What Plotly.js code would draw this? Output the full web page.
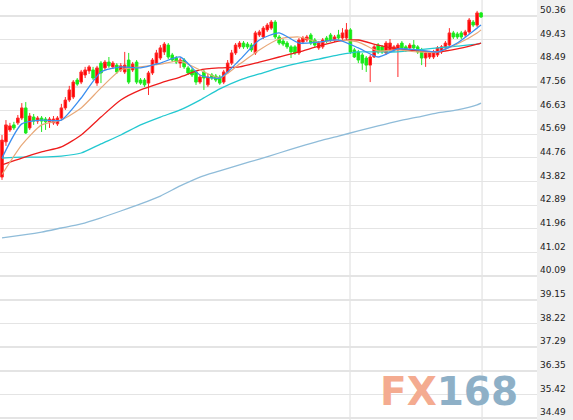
<!DOCTYPE html>
<html><head><meta charset="utf-8">
<script src="https://cdn.plot.ly/plotly-3.0.1.min.js"></script>
<style>html,body{margin:0;padding:0;background:#fff}#chart{width:573px;height:420px}</style>
</head><body><div id="chart"></div>
<script>
const open=[44.00,45.39,45.86,46.06,46.14,46.33,46.73,45.94,46.37,46.21,
46.33,46.29,46.18,46.14,46.10,46.33,46.73,47.04,47.16,47.83,
47.75,48.03,48.19,48.23,47.71,48.50,48.31,48.54,48.35,48.42,
48.23,48.15,48.62,48.23,48.54,47.83,47.83,47.71,48.11,48.50,
48.70,48.94,49.21,48.82,48.70,48.50,48.62,48.31,48.23,48.15,
47.75,48.15,47.64,48.03,47.99,47.95,47.75,48.15,48.50,48.90,
49.14,49.29,49.25,49.21,48.90,49.61,49.53,49.81,49.88,50.12,
49.53,49.37,49.29,49.14,49.14,48.90,49.33,49.41,49.61,49.41,
49.10,49.14,49.49,49.61,49.41,49.61,49.49,49.49,49.81,49.02,
48.94,48.82,48.70,48.42,48.74,49.21,49.14,48.90,49.02,49.02,
49.02,49.29,49.14,49.10,49.21,49.14,49.02,48.70,48.74,48.74,
48.82,48.94,49.10,49.21,49.69,49.65,49.69,49.61,49.73,50.12,
50.00,50.48];
const high=[45.66,46.25,46.14,46.18,46.45,46.92,46.96,46.53,46.49,46.41,
46.41,46.37,46.37,46.41,46.41,46.89,47.16,47.60,47.83,47.91,
48.23,48.35,48.42,48.35,48.39,48.58,48.62,48.74,48.58,48.50,
48.50,48.94,48.90,48.54,48.62,47.91,47.91,48.19,48.70,49.02,
49.21,49.33,49.29,48.90,48.78,48.70,48.70,48.39,48.31,48.23,
48.03,48.23,48.07,48.11,48.07,48.03,48.23,48.62,49.02,49.29,
49.37,49.37,49.33,49.29,49.77,49.81,49.96,50.08,50.20,50.20,
49.61,49.45,49.37,49.21,49.21,49.49,49.57,49.61,49.69,49.49,
49.37,49.49,49.57,49.69,49.61,49.81,49.88,50.08,49.88,49.10,
49.02,48.90,48.78,48.82,49.21,49.29,49.21,49.37,49.45,49.21,
49.29,49.37,49.21,49.29,49.41,49.21,49.10,48.98,48.98,49.02,
49.17,49.21,49.37,49.88,49.77,49.73,49.77,49.81,50.28,50.20,
50.56,50.52];
const low=[43.89,45.23,45.78,45.86,46.06,46.25,45.70,45.86,46.06,46.10,
45.78,45.86,45.94,46.06,46.02,46.25,46.65,46.96,47.08,47.60,
47.67,47.91,48.07,47.83,47.60,47.71,48.23,48.31,48.27,48.07,
48.15,48.07,47.67,48.15,47.67,47.64,47.56,47.24,48.03,48.42,
48.62,48.82,48.66,48.54,48.46,48.31,48.27,48.03,47.95,47.64,
47.67,47.44,47.56,47.83,47.75,47.64,47.67,48.07,48.42,48.82,
49.06,49.06,49.06,48.94,48.82,49.53,49.45,49.73,49.81,49.45,
49.21,49.17,49.06,48.70,48.82,48.82,49.25,49.33,49.21,49.14,
49.02,49.06,49.29,49.33,49.33,49.41,49.41,49.41,48.86,48.70,
48.50,48.23,48.15,47.75,48.70,48.86,48.86,48.82,48.94,48.94,
47.95,49.02,48.94,49.02,49.02,48.86,48.42,48.35,48.66,48.66,
48.74,48.86,49.02,49.14,49.45,49.45,49.45,49.53,49.65,49.92,
49.92,50.28];
const close=[45.46,46.06,46.02,45.94,46.33,46.73,45.74,46.41,46.21,46.33,
46.21,46.18,46.29,46.29,46.33,46.73,47.04,47.44,47.75,47.67,
48.15,48.23,48.35,47.91,48.31,48.11,48.54,48.39,48.50,48.15,
48.39,48.42,47.75,48.46,47.75,47.71,47.64,48.11,48.62,48.90,
49.10,49.25,48.74,48.62,48.54,48.62,48.35,48.11,48.03,47.75,
47.95,47.91,47.95,47.91,47.83,47.71,48.15,48.50,48.90,49.21,
49.29,49.14,49.14,49.02,49.69,49.73,49.88,50.00,50.12,49.53,
49.29,49.25,49.14,48.94,48.90,49.41,49.49,49.53,49.29,49.21,
49.29,49.41,49.37,49.41,49.53,49.49,49.69,49.81,48.94,48.74,
48.62,48.50,48.42,48.74,49.14,48.94,48.94,49.29,49.29,49.14,
49.21,49.10,49.02,49.21,49.10,48.94,48.70,48.90,48.90,48.94,
49.10,49.14,49.29,49.69,49.53,49.53,49.53,49.73,50.20,50.00,
50.48,50.32];

// moving-average lines read at these candle positions
const maIdx=[0,5,10,15,20,25,30,35,40,45,50,55,60,65,70,75,80,85,90,95,100,105,110,115,120,121];
const ma5 =[44.75,46.10,46.25,46.25,47.12,48.15,48.35,48.31,48.50,48.74,48.03,47.91,48.62,49.41,49.69,49.29,49.33,49.41,49.10,48.74,49.06,49.02,48.94,49.29,49.88,50.00];
const ma10=[44.10,45.27,46.06,46.25,46.73,47.52,48.23,48.35,48.46,48.58,48.23,47.91,48.46,49.02,49.45,49.53,49.33,49.41,49.33,48.98,49.02,48.94,48.94,49.25,49.69,49.81];
const ma20=[44.48,44.75,44.99,45.19,45.66,46.37,47.04,47.44,47.71,47.95,48.23,48.31,48.35,48.54,48.74,48.94,49.17,49.37,49.41,49.21,49.06,48.98,48.94,49.06,49.25,49.29];
const ma60=[44.75,44.79,44.79,44.83,44.95,45.31,45.66,46.06,46.37,46.65,47.04,47.48,47.83,48.07,48.31,48.50,48.66,48.82,48.94,48.94,48.94,49.02,49.10,49.17,49.25,49.29];
const ma120=[41.60,41.71,41.83,41.99,42.15,42.39,42.66,42.94,43.25,43.65,44.00,44.24,44.48,44.71,44.95,45.19,45.42,45.62,45.82,46.02,46.21,46.37,46.53,46.65,46.85,46.92];

const tickLabels=["50.36","49.43","48.49","47.56","46.63","45.69","44.76","43.82","42.89","41.96","41.02","40.09","39.15","38.22","37.29","36.35","35.42","34.49"];
const dividers=[87.9,121.25];

const idx=open.map((_,i)=>i);
function ma(y,color,w){return {type:'scatter',mode:'lines',x:maIdx,y:y,line:{color:color,width:w,shape:'spline',smoothing:0.6},hoverinfo:'skip',showlegend:false};}

const traces=[
 {type:'candlestick',x:idx,open:open,high:high,low:low,close:close,
  increasing:{line:{color:'#ff2a2a',width:1},fillcolor:'#ff0000'},
  decreasing:{line:{color:'#22e822',width:1},fillcolor:'#11ee11'},
  whiskerwidth:0,showlegend:false,hoverinfo:'skip'},
 ma(ma120,'#8fbcd9',1.3),
 ma(ma60,'#22c8d0',1.3),
 ma(ma20,'#ee1c1c',1.3),
 ma(ma10,'#e8a878',1.2),
 ma(ma5,'#3a8ef0',1.3)
];

const layout={
 width:573,height:420,
 margin:{l:0,r:36,t:0,b:0,pad:0},
 paper_bgcolor:'#f0f0f0',plot_bgcolor:'#ffffff',
 showlegend:false,
 boxgap:0.08,
 xaxis:{range:[-0.505,135.13],showgrid:false,zeroline:false,showticklabels:false,ticks:'',rangeslider:{visible:false},fixedrange:true,showline:false},
 yaxis:{side:'right',range:[34.41,50.99],tickvals:tickLabels.map(Number),ticktext:tickLabels,
  showgrid:true,gridcolor:'#e4e4e4',gridwidth:1.3,zeroline:false,ticks:'',
  tickfont:{family:'DejaVu Sans',size:9,color:'#222'},ticklabelshift:-6,ticklabelstandoff:2,showline:false},
 shapes:dividers.map(v=>({type:'line',xref:'x',yref:'paper',x0:v,x1:v,y0:0,y1:1,line:{color:'#dcdcdc',width:1},layer:'below'})),
 annotations:[{xref:'paper',yref:'paper',x:0.837,y:0.069,xanchor:'center',yanchor:'middle',showarrow:false,
  text:'<span style="color:#f4ab90">FX</span><span style="color:#8eb0c7">168</span>',
  font:{family:'DejaVu Sans',size:39,weight:'bold'}}]
};
Plotly.newPlot('chart',traces,layout,{staticPlot:true,displayModeBar:false});
</script></body></html>
